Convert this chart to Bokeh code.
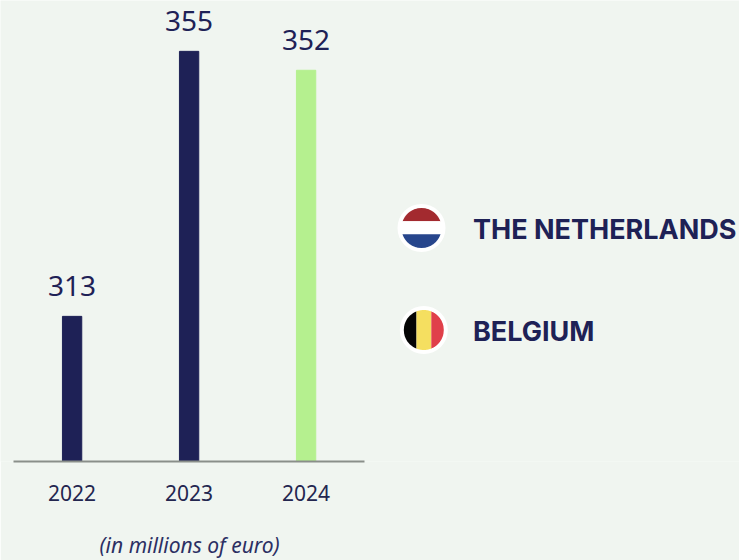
import numpy as np
from bokeh.core.properties import value
from bokeh.embed import file_html
from bokeh.models import ColumnDataSource, FixedTicker, LinearAxis, Range1d, Title
from bokeh.plotting import figure
from bokeh.resources import INLINE

years = [2022, 2023, 2024]
revenue = [313, 355, 352]
bar_colors = ["#1e2156", "#1e2156", "#b5f08f"]
labels = ["313", "355", "352"]
countries = ["THE NETHERLANDS", "BELGIUM"]
unit_note = "(in millions of euro)"

BG = "#f0f5f0"
NAVY = "#1e2156"
TEXT_FONT = "Noto Sans"
PX_PER_YEAR = 117
FRAME_WIDTH = 739
FRAME_HEIGHT = 461
x_start = 2022 - 71.6 / PX_PER_YEAR

# The value axis is cut off at 290, as in a truncated column chart
p = figure(width=FRAME_WIDTH, height=560, output_backend="svg", toolbar_location=None,
           background_fill_color=BG, border_fill_color=BG, outline_line_color=None,
           x_range=Range1d(x_start, x_start + FRAME_WIDTH / PX_PER_YEAR),
           y_range=Range1d(290, 290 + FRAME_HEIGHT / 6.31),
           min_border_left=0, min_border_right=0, min_border_top=0, min_border_bottom=0,
           frame_height=FRAME_HEIGHT, frame_width=FRAME_WIDTH,
           x_axis_type=None, y_axis_type=None)
p.grid.visible = False

# The legend is positioned on a second pair of ranges that follow the page's pixels
p.extra_x_ranges["page_x"] = Range1d(0, FRAME_WIDTH)
p.extra_y_ranges["page_y"] = Range1d(FRAME_HEIGHT, 0)

source = ColumnDataSource(dict(year=years, revenue=revenue, color=bar_colors, label=labels))
p.vbar(x="year", top="revenue", bottom=290, width=0.165, color="color", source=source)
p.text(x="year", y="revenue", text="label", source=source, text_align="center",
       text_baseline="bottom", y_offset=-20, text_color=NAVY,
       text_font=value(TEXT_FONT), text_font_size="28px")

axis = LinearAxis(ticker=FixedTicker(ticks=years), bounds=(2021.5, 2024.5))
axis.axis_line_color = "#8a8f8a"
axis.axis_line_width = 2
axis.major_tick_line_color = None
axis.minor_tick_line_color = None
axis.major_label_standoff = 17
axis.major_label_text_font = TEXT_FONT
axis.major_label_text_font_size = "21px"
axis.major_label_text_color = "#23264f"
axis.major_label_overrides = {y: str(y) for y in years}
p.add_layout(axis, "below")

# The unit note sits in its own panel under the axis, left-aligned beneath the bars
p.add_layout(Title(text=unit_note, align="left", offset=99, standoff=50,
                   text_font=TEXT_FONT, text_font_size="21px",
                   text_font_style="italic", text_color="#2b2f63"), "below")


def disc_band(cx, cy, r, axis_name, start, stop):
    """Polygon for the part of a disc between two offsets along one axis."""
    t = np.linspace(start, stop, 40)
    half = np.sqrt(np.clip(r * r - t * t, 0, None))
    along = np.concatenate([t, t[::-1]])
    across = np.concatenate([half, -half[::-1]])
    if axis_name == "y":
        return cx + across, cy + along
    return cx + along, cy + across


def draw_flag(cx, cy, axis_name, stripes):
    p.scatter([cx], [cy], size=48, color="white", line_color=None,
              x_range_name="page_x", y_range_name="page_y")
    for start, stop, color in stripes:
        xs, ys = disc_band(cx, cy, 20, axis_name, start, stop)
        p.patch(xs, ys, color=color, line_color=None,
                x_range_name="page_x", y_range_name="page_y")


draw_flag(421, 227.5, "y", [(-20, -6.7, "#a32a2f"), (-6.7, 6.3, "#ffffff"), (6.3, 20, "#27468c")])
draw_flag(423.3, 329.5, "x", [(-20, -7.3, "#050505"), (-7.3, 7.5, "#f5df60"), (7.5, 20, "#e0404a")])

p.text(x=[472.5, 472.5], y=[229, 331], text=countries, text_baseline="middle",
       text_color=NAVY, text_font=value("Inter"), text_font_size="27px",
       text_font_style="bold", x_range_name="page_x", y_range_name="page_y")

open("out.html", "w").write(file_html(p, INLINE))
